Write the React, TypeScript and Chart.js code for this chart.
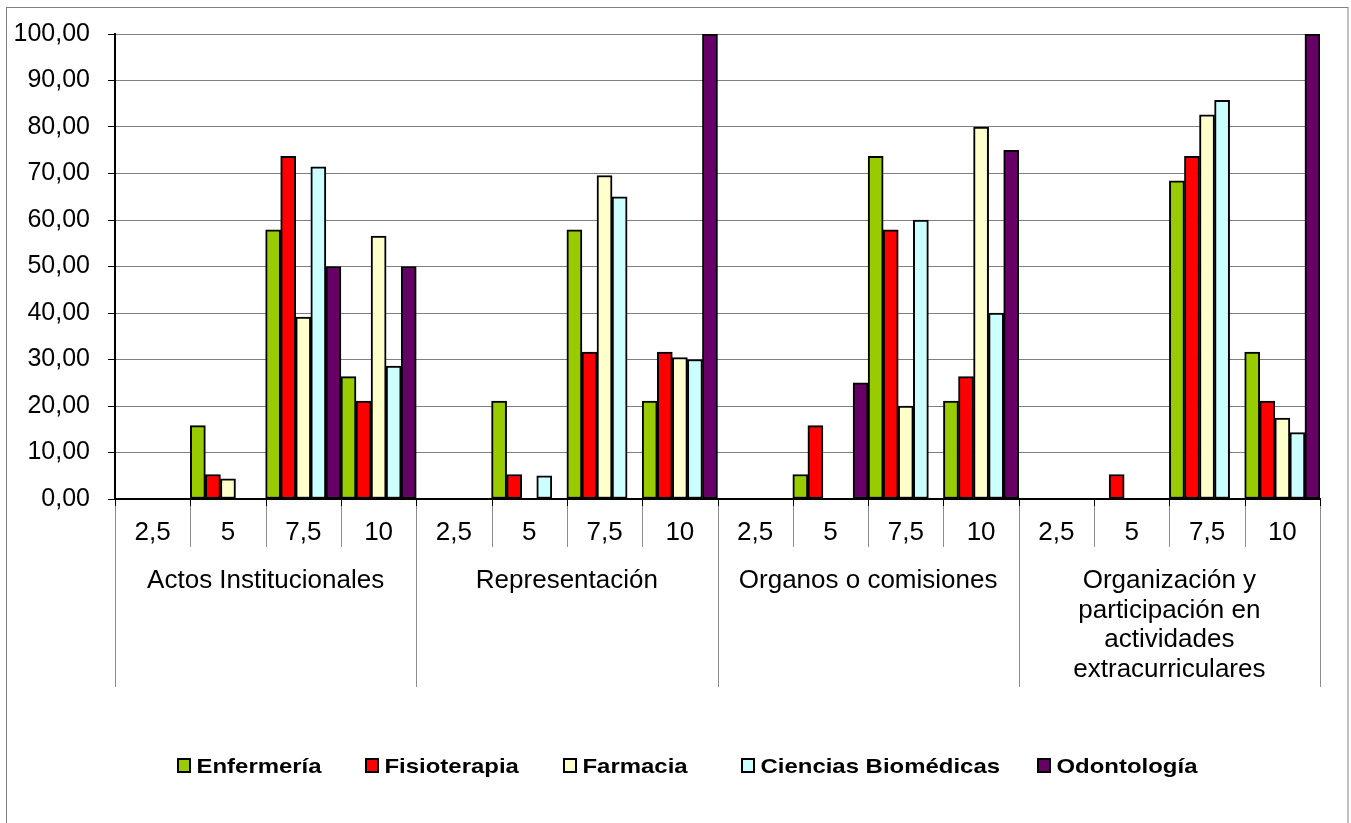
import React, { useEffect, useRef } from 'react';
import { Chart, registerables } from 'chart.js';

Chart.register(...registerables);

// ---- Data ----
const groupLines: string[][] = [
  ['Actos Institucionales'],
  ['Representación'],
  ['Organos o comisiones'],
  ['Organización y', 'participación en', 'actividades', 'extracurriculares'],
];
const scoreLabels = ['2,5', '5', '7,5', '10'];
const seriesNames = ['Enfermería', 'Fisioterapia', 'Farmacia', 'Ciencias Biomédicas', 'Odontología'];

const enfermeria = [0, 15.79, 57.89, 26.32, 0, 21.05, 57.89, 21.05, 0, 5.26, 73.68, 21.05, 0, 0, 68.42, 31.58];
const fisioterapia = [0, 5.26, 73.68, 21.05, 0, 5.26, 31.58, 31.58, 0, 15.79, 57.89, 26.32, 0, 5.26, 73.68, 21.05];
const farmacia = [0, 4.35, 39.13, 56.52, 0, 0, 69.57, 30.43, 0, 0, 20, 80, 0, 0, 82.61, 17.39];
const cienciasBiomedicas = [0, 0, 71.43, 28.57, 0, 5, 65, 30, 0, 0, 60, 40, 0, 0, 85.71, 14.29];
const odontologia = [0, 0, 50, 50, 0, 0, 0, 100, 0, 25, 0, 75, 0, 0, 0, 100];

const seriesColors = ['#99CC00', '#FF0000', '#FFFFCC', '#CCFFFF', '#660066'];

const categoryLabels: string[] = [];
groupLines.forEach(() => scoreLabels.forEach((s) => categoryLabels.push(s)));

// legend layout (page pixels)
const legendMarkerX = [177, 365, 563, 741, 1037];

const FONT = '"Liberation Sans", Arial, Helvetica, sans-serif';

const multiAxisPlugin = {
  id: 'multiAxis',
  afterDraw(chart: any) {
    const { ctx, chartArea } = chart;
    const xs = chart.scales.x;
    const n = categoryLabels.length;
    const w = (chartArea.right - chartArea.left) / n;
    const y0 = chartArea.bottom;
    ctx.save();

    // separators
    for (let i = 0; i <= n; i++) {
      const px = Math.round(chartArea.left + i * w) + 0.5;
      const isGroup = i % scoreLabels.length === 0;
      ctx.strokeStyle = '#8c8c8c';
      ctx.lineWidth = 1;
      ctx.beginPath();
      ctx.moveTo(px, y0);
      ctx.lineTo(px, isGroup ? y0 + 188 : y0 + 48);
      ctx.stroke();
      ctx.strokeStyle = '#000';
      ctx.beginPath();
      ctx.moveTo(px, y0);
      ctx.lineTo(px, y0 + 7);
      ctx.stroke();
    }

    // category labels
    ctx.fillStyle = '#000';
    ctx.textAlign = 'center';
    ctx.textBaseline = 'alphabetic';
    ctx.font = `26px ${FONT}`;
    for (let i = 0; i < n; i++) {
      const cx = xs.getPixelForValue(i);
      ctx.fillText(categoryLabels[i], cx, y0 + 41);
    }

    // group labels
    groupLines.forEach((lines, g) => {
      const cx = chartArea.left + (g * scoreLabels.length + scoreLabels.length / 2) * w;
      lines.forEach((line, k) => {
        ctx.fillText(line, cx, y0 + 89 + k * 29.5);
      });
    });

    // legend
    ctx.textAlign = 'left';
    ctx.font = `bold 21px ${FONT}`;
    seriesNames.forEach((name, i) => {
      const mx = legendMarkerX[i];
      ctx.fillStyle = seriesColors[i];
      ctx.fillRect(mx + 1, 759, 12, 13);
      ctx.strokeStyle = '#000';
      ctx.lineWidth = 2;
      ctx.strokeRect(mx + 1, 759, 12, 13);
      ctx.fillStyle = '#000';
      ctx.save();
      ctx.translate(mx + 19.5, 773);
      ctx.scale(1.14, 1);
      ctx.fillText(name, 0, 0);
      ctx.restore();
    });

    // outer border
    ctx.strokeStyle = '#808080';
    ctx.lineWidth = 1;
    ctx.strokeRect(6.5, 7.5, 1341.5, 840);
    ctx.restore();
  },
};

export default function App() {
  const canvasRef = useRef<HTMLCanvasElement | null>(null);

  useEffect(() => {
    const canvas = canvasRef.current;
    if (!canvas) return;
    const seriesData = [enfermeria, fisioterapia, farmacia, cienciasBiomedicas, odontologia];
    const chart = new Chart(canvas, {
      type: 'bar',
      data: {
        labels: categoryLabels,
        datasets: seriesNames.map((name, i) => ({
          label: name,
          data: seriesData[i],
          backgroundColor: (c: any) => (c.raw === 0 ? 'rgba(0,0,0,0)' : seriesColors[i]),
          borderColor: (c: any) => (c.raw === 0 ? 'rgba(0,0,0,0)' : '#000'),
          borderWidth: (c: any) => (c.raw === 0 ? 0 : 2),
          borderSkipped: false,
          categoryPercentage: 1,
          barPercentage: 1,
        })),
      },
      options: {
        responsive: true,
        maintainAspectRatio: false,
        animation: false,
        layout: { padding: { top: 34, right: 31, bottom: 324, left: 0 } },
        plugins: {
          legend: { display: false },
          tooltip: { enabled: false },
        },
        scales: {
          x: {
            grid: { display: false, drawTicks: false },
            ticks: { display: false },
            border: { display: true, color: '#000', width: 2 },
            afterFit: (s: any) => {
              s.height = 0;
            },
          },
          y: {
            min: 0,
            max: 100,
            ticks: {
              stepSize: 10,
              color: '#000',
              padding: 18,
              font: { size: 25, family: FONT },
              callback: (v: any) => Number(v).toFixed(2).replace('.', ','),
            },
            grid: { color: '#7f7f7f', tickColor: '#000', tickLength: 7, lineWidth: 1 },
            border: { display: true, color: '#000', width: 2 },
            afterFit: (s: any) => {
              s.width = 115;
            },
          },
        },
      },
      plugins: [multiAxisPlugin],
    } as any);
    return () => chart.destroy();
  }, []);

  return (
    <div style={{ position: 'fixed', left: 0, top: 0, width: 1351, height: 823, background: '#fff' }}>
      <canvas ref={canvasRef} />
    </div>
  );
}
